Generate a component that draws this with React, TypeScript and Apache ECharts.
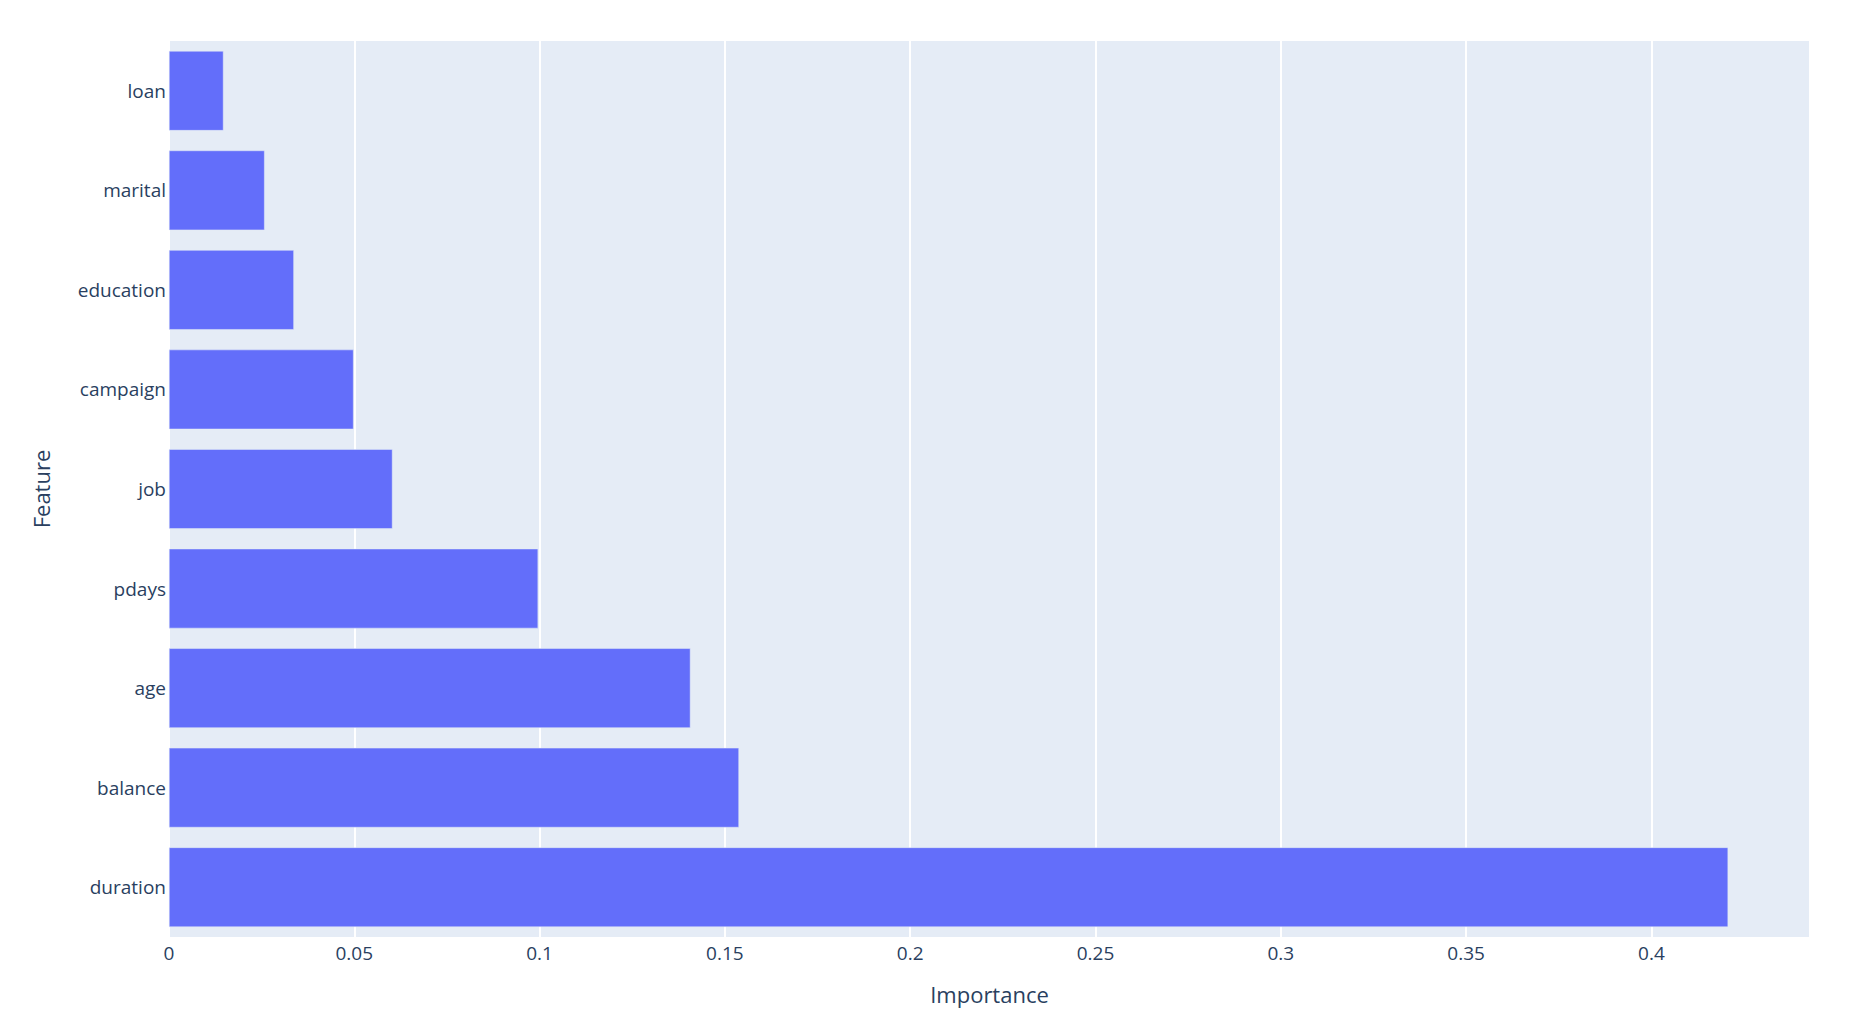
import { useEffect, useRef } from 'react'
import * as echarts from 'echarts'

// bottom to top, as in the reference
const features = ['duration', 'balance', 'age', 'pdays', 'job', 'campaign', 'education', 'marital', 'loan']
const importance = [0.4207, 0.1538, 0.1407, 0.0996, 0.0603, 0.0498, 0.0337, 0.0258, 0.0147]

const TEXT = '#2a3f5f'
const FONT = 'Open Sans'

export default function App() {
  const ref = useRef<HTMLDivElement | null>(null)

  useEffect(() => {
    document.body.style.margin = '0'
    if (!ref.current) return
    const chart = echarts.init(ref.current, null, { renderer: 'svg' })
    chart.setOption({
      animation: false,
      backgroundColor: '#fff',
      textStyle: { fontFamily: FONT, color: TEXT },
      grid: {
        left: 169,
        right: 52,
        top: 41,
        bottom: 97,
        show: true,
        backgroundColor: '#E5ECF6',
        borderWidth: 0,
      },
      xAxis: {
        type: 'value',
        min: 0,
        max: 0.4428,
        interval: 0.05,
        name: 'Importance',
        nameLocation: 'middle',
        nameGap: 46,
        nameTextStyle: { fontFamily: FONT, color: TEXT, fontSize: 22 },
        axisLine: { show: false },
        axisTick: { show: false },
        axisLabel: { fontFamily: FONT, color: TEXT, fontSize: 19, margin: 6, showMaxLabel: false },
        splitLine: { show: true, lineStyle: { color: '#fff', width: 2 } },
      },
      yAxis: {
        type: 'category',
        data: features,
        name: 'Feature',
        nameLocation: 'middle',
        nameGap: 117,
        nameTextStyle: { fontFamily: FONT, color: TEXT, fontSize: 22 },
        axisLine: { show: false },
        axisTick: { show: false },
        axisLabel: { fontFamily: FONT, color: TEXT, fontSize: 19, margin: 3 },
        splitLine: { show: false },
      },
      series: [
        {
          type: 'bar',
          data: importance,
          barCategoryGap: '20%',
          itemStyle: { color: '#636efa', borderColor: '#E5ECF6', borderWidth: 0.5 },
        },
      ],
    })
    return () => chart.dispose()
  }, [])

  return <div ref={ref} style={{ width: 1862, height: 1034 }} />
}
